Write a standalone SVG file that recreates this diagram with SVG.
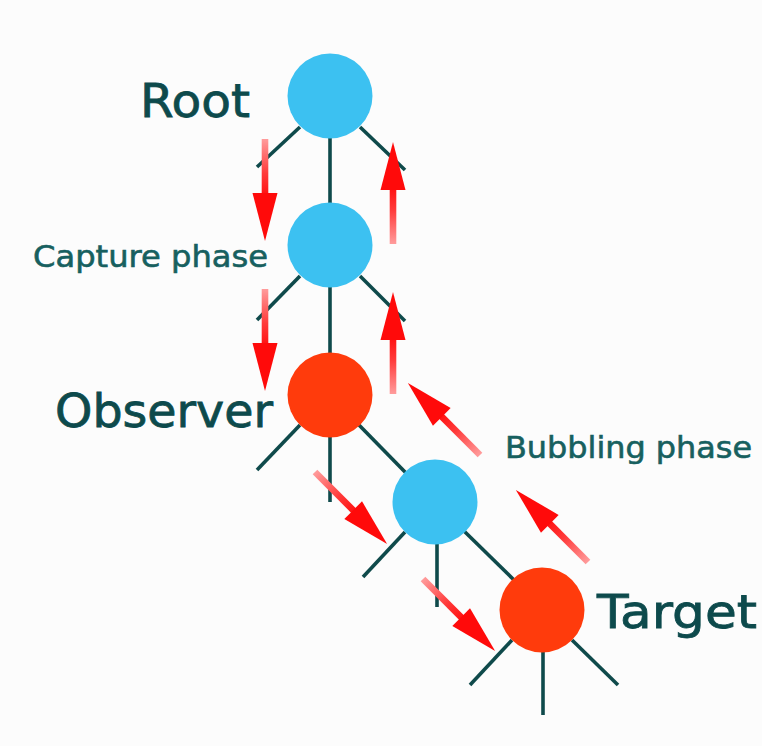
<svg xmlns="http://www.w3.org/2000/svg" width="762" height="746" viewBox="0 0 762 746">
  <style>
    .edge { stroke: #0f4a4b; stroke-width: 3.6; stroke-linecap: butt; fill: none; }
    .blue { fill: #3cc1f1; }
    .red { fill: #ff3b0c; }
    .big { font-family: "DejaVu Sans", "Liberation Sans", sans-serif; font-size: 47px; fill: #0d4a4c; stroke: #0d4a4c; stroke-width: 0.8; }
    .small { font-family: "DejaVu Sans", "Liberation Sans", sans-serif; font-size: 30px; fill: #17605f; stroke: #17605f; stroke-width: 0.6; }
  </style>
  <defs>
    <linearGradient id="shaftGrad" x1="0" y1="0" x2="1" y2="0">
      <stop offset="0" stop-color="#ff9c9c"/>
      <stop offset="0.6" stop-color="#ff3a3a"/>
      <stop offset="1" stop-color="#ff1010"/>
    </linearGradient>
    <g id="arrow">
      <rect x="0" y="-3.3" width="57" height="6.6" fill="url(#shaftGrad)"/>
      <polygon points="54,-12.5 102,0 54,12.5" fill="#ff0a0a"/>
    </g>
  </defs>
  <rect x="0" y="0" width="762" height="746" fill="#fcfcfc"/>

  <g id="connectors">
    <!-- tree edges -->
    <line class="edge" x1="300" y1="127" x2="257" y2="167"/>
    <line class="edge" x1="360" y1="127" x2="405" y2="170"/>
    <line class="edge" x1="330" y1="136" x2="330" y2="206"/>
    <line class="edge" x1="300" y1="276" x2="257" y2="320"/>
    <line class="edge" x1="360" y1="276" x2="405" y2="321"/>
    <line class="edge" x1="330" y1="285" x2="330" y2="356"/>
    <line class="edge" x1="300" y1="425" x2="257" y2="470"/>
    <line class="edge" x1="330" y1="435" x2="330" y2="502"/>
    <line class="edge" x1="359" y1="425" x2="406" y2="473"/>
    <line class="edge" x1="405" y1="532" x2="363" y2="577"/>
    <line class="edge" x1="437" y1="542" x2="437" y2="607"/>
    <line class="edge" x1="464" y1="531" x2="514" y2="580"/>
    <line class="edge" x1="512" y1="640" x2="470" y2="685"/>
    <line class="edge" x1="543" y1="650" x2="543" y2="715"/>
    <line class="edge" x1="572" y1="640" x2="618" y2="685"/>
    <!-- capture phase arrows -->
    <use href="#arrow" transform="translate(265,139) rotate(90)"/>
    <use href="#arrow" transform="translate(265,289) rotate(90)"/>
    <use href="#arrow" transform="translate(315,472) rotate(45)"/>
    <use href="#arrow" transform="translate(423,579) rotate(45)"/>
    <!-- bubbling phase arrows -->
    <use href="#arrow" transform="translate(393,244) rotate(-90)"/>
    <use href="#arrow" transform="translate(393,394) rotate(-90)"/>
    <use href="#arrow" transform="translate(480,455) rotate(-135)"/>
    <use href="#arrow" transform="translate(588,562) rotate(-135)"/>
    <text class="small" x="33" y="267" textLength="235" lengthAdjust="spacingAndGlyphs">Capture phase</text>
    <text class="small" x="505" y="458" textLength="247" lengthAdjust="spacingAndGlyphs">Bubbling phase</text>
  </g>

  <g id="root">
    <circle class="blue" cx="330" cy="96" r="42.5"/>
    <text class="big" x="140" y="117" textLength="110" lengthAdjust="spacingAndGlyphs">Root</text>
  </g>
  <g id="node2">
    <circle class="blue" cx="330" cy="245" r="42.5"/>
  </g>
  <g id="observer">
    <circle class="red" cx="330" cy="395" r="42.5"/>
    <text class="big" x="55" y="427" textLength="218" lengthAdjust="spacingAndGlyphs">Observer</text>
  </g>
  <g id="node4">
    <circle class="blue" cx="435" cy="502" r="42.5"/>
  </g>
  <g id="target">
    <circle class="red" cx="542" cy="610" r="42.5"/>
    <text class="big" x="597" y="628" textLength="160" lengthAdjust="spacingAndGlyphs">Target</text>
  </g>
</svg>
